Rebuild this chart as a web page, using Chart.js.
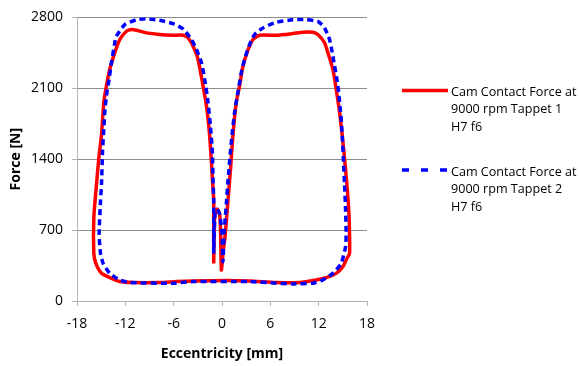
<!DOCTYPE html>
<html><head><meta charset="utf-8">
<script src="https://cdn.jsdelivr.net/npm/chart.js@4"></script>
<style>
html,body{margin:0;padding:0;background:#fff;}
#wrap{position:relative;width:580px;height:366px;overflow:hidden;}
#c{position:absolute;left:0;top:0;}
.leg{position:absolute;font-family:'Open Sans';font-size:12.6px;line-height:17.3px;color:#000;white-space:nowrap;}
svg{position:absolute;left:0;top:0;}
</style></head><body>
<div id="wrap">
<canvas id="c" width="580" height="366"></canvas>
<svg width="580" height="366">
  <line x1="402" y1="90.5" x2="448" y2="90.5" stroke="#ff0000" stroke-width="3.5"/>
  <line x1="402" y1="170" x2="448" y2="170" stroke="#0000ff" stroke-width="3.5" stroke-dasharray="7 12"/>
</svg>
<div class="leg" id="l1" style="left:451px;top:83px;"></div>
<div class="leg" id="l2" style="left:451px;top:163px;"></div>
</div>
<script>
const legendLabels = [
  ["Cam Contact Force at", "9000 rpm Tappet 1", "H7 f6"],
  ["Cam Contact Force at", "9000 rpm Tappet 2", "H7 f6"]
];
const xTicks = [-18, -12, -6, 0, 6, 12, 18];
const yTicks = [0, 700, 1400, 2100, 2800];

const tappet1X = [-1.03,-1.03,-1.03,-1.20,-1.40,-1.61,-1.94,-2.36,-2.98,-3.60,-4.21,-4.83,-6.07,-7.73,-9.38,-10.62,-11.24,-11.86,-12.69,-13.31,-13.93,-14.34,-14.67,-14.96,-15.29,-15.58,-15.91,-15.91,-15.66,-14.96,-13.93,-12.69,-11.03,-7.73,-5.66,-3.60,0.54,3.43,6.74,9.63,11.69,12.93,14.17,15.00,15.50,15.83,15.83,15.74,15.50,15.21,14.92,14.59,14.17,13.76,13.14,12.73,11.90,11.28,10.04,8.80,6.74,4.67,3.84,3.10,2.52,2.19,1.78,1.36,1.07,0.74,0.41,0.12,-0.08,-0.17,-0.29,-0.62,-0.91,-1.03];
const tappet1Y = [371,728,989,1216,1476,1704,1932,2127,2387,2517,2598,2624,2624,2631,2647,2673,2680,2663,2582,2452,2289,2127,1964,1639,1411,1151,826,468,371,273,231,192,182,182,192,198,202,198,182,182,208,231,273,338,420,468,663,891,1151,1411,1639,1867,2094,2289,2452,2550,2631,2654,2654,2641,2624,2624,2582,2452,2289,2127,1964,1639,1314,989,663,468,306,663,859,907,826,371];

const tappet2X = [-1.03,-1.03,-1.03,-1.12,-1.20,-1.45,-1.74,-2.15,-2.56,-3.18,-3.80,-4.83,-6.07,-7.73,-9.38,-10.62,-12.07,-13.10,-13.31,-13.72,-14.01,-14.34,-14.55,-14.67,-14.83,-14.96,-15.08,-15.25,-15.08,-14.75,-13.93,-12.69,-11.45,-6.07,-3.60,3.43,6.74,8.80,11.28,12.52,13.76,14.79,15.33,15.41,15.33,15.21,15.08,14.92,14.79,14.38,13.76,13.35,12.73,11.90,10.45,8.80,6.74,5.08,4.05,3.43,2.81,2.40,1.98,1.57,1.16,0.74,0.54,0.41,0.25,0.12,0.00,-0.29,-0.62,-0.87,-1.03];
const tappet2Y = [468,663,989,1216,1476,1737,1964,2192,2354,2485,2582,2686,2738,2771,2787,2777,2728,2615,2550,2354,2192,2029,1867,1704,1476,1151,989,663,468,371,273,208,182,176,192,192,176,169,176,208,273,371,533,663,924,1151,1379,1639,1802,2127,2419,2582,2696,2761,2777,2777,2751,2696,2631,2533,2387,2257,2062,1867,1574,1184,956,826,663,387,663,859,907,859,468];

document.getElementById('l1').innerHTML = legendLabels[0].join('<br>');
document.getElementById('l2').innerHTML = legendLabels[1].join('<br>');

function pts(xs, ys){ return xs.map((x,i)=>({x:x, y:ys[i]})); }

const FONT = "'Open Sans'";
new Chart(document.getElementById('c'), {
  type: 'scatter',
  data: {
    datasets: [
      { label: legendLabels[0].join(' '), data: pts(tappet1X, tappet1Y), showLine: true, borderColor: '#ff0000', borderWidth: 3.5, pointRadius: 0, tension: 0.2, fill: false, order: 2 },
      { label: legendLabels[1].join(' '), data: pts(tappet2X, tappet2Y), showLine: true, borderColor: '#0000ff', borderWidth: 3.5, borderDash: [6, 4], pointRadius: 0, tension: 0.2, fill: false, order: 1 }
    ]
  },
  options: {
    responsive: false,
    animation: false,
    layout: { padding: { left: 0, top: 14, right: 213, bottom: 0 } },
    plugins: { legend: { display: false }, tooltip: { enabled: false } },
    scales: {
      x: {
        type: 'linear', min: -18, max: 18,
        afterBuildTicks: s => { s.ticks = xTicks.map(v => ({value: v})); },
        afterFit: s => { s.height = 65; },
        ticks: { color: '#000', font: { family: FONT, size: 14 }, padding: 10, maxRotation: 0, callback: v => String(v) },
        grid: { drawOnChartArea: false, drawTicks: true, tickLength: 5, color: '#b4b4b4' },
        border: { color: '#b4b4b4', width: 1 },
        title: { display: true, text: 'Eccentricity [mm]', color: '#000', font: { family: FONT, size: 14, weight: 'bold' }, padding: { top: 0, bottom: 4 } }
      },
      y: {
        type: 'linear', min: 0, max: 2800,
        afterBuildTicks: s => { s.ticks = yTicks.map(v => ({value: v})); },
        afterFit: s => { s.width = 77; },
        ticks: { color: '#000', font: { family: FONT, size: 14 }, padding: 9, callback: v => String(v) },
        grid: { color: '#8c8c8c', tickColor: '#b4b4b4', drawTicks: true, tickLength: 5, lineWidth: 1 },
        border: { color: '#b4b4b4', width: 1 },
        title: { display: true, text: 'Force [N]', color: '#000', font: { family: FONT, size: 14, weight: 'bold' }, padding: { top: 8, bottom: 0 } }
      }
    }
  }
});
</script>
</body></html>
